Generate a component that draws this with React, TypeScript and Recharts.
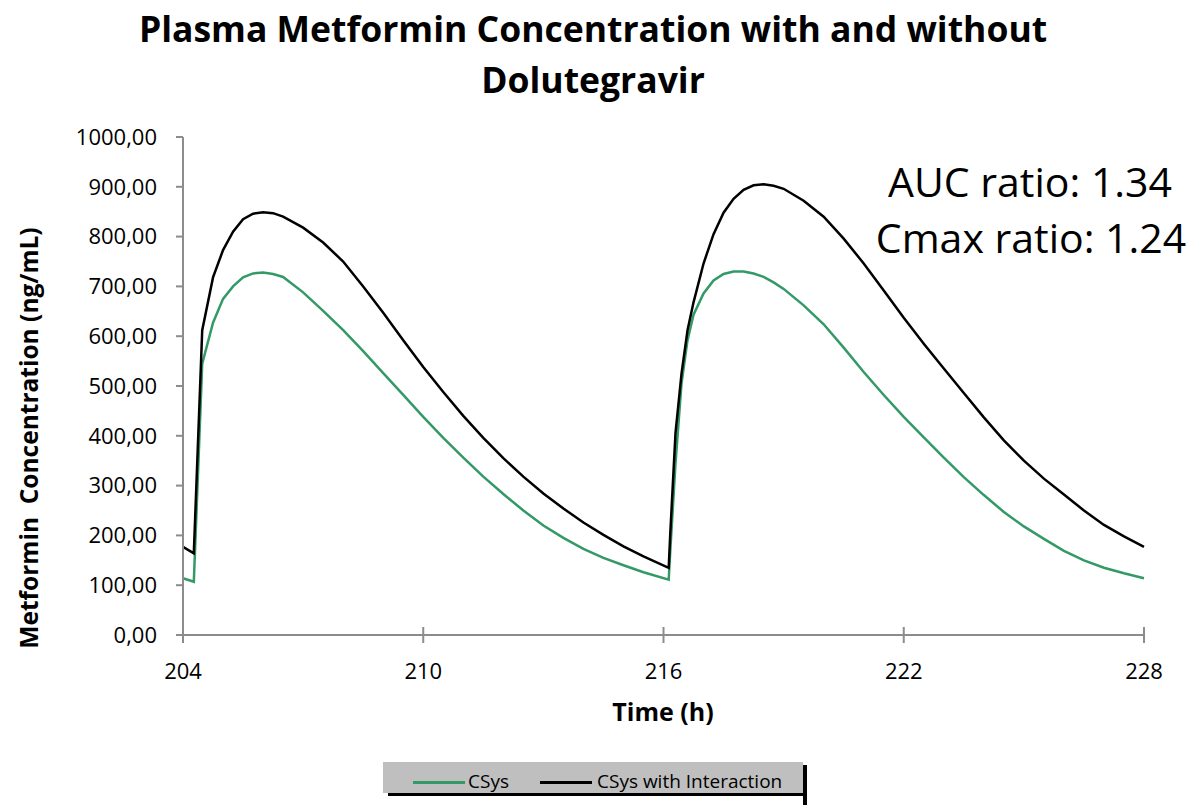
import React from 'react';
import { LineChart, Line, XAxis, YAxis, Legend } from 'recharts';

const times = [
  204, 204.27, 204.48, 204.75, 205, 205.25, 205.5, 205.75, 206, 206.25, 206.5, 207, 207.5, 208, 208.5,
  209, 209.5, 210, 210.5, 211, 211.5, 212, 212.5, 213, 213.5, 214, 214.5, 215, 215.5, 216.13,
  216.17, 216.3, 216.45, 216.6, 216.75, 217, 217.25, 217.5, 217.75, 218, 218.25, 218.5, 218.75, 219,
  219.5, 220, 220.5, 221, 221.5, 222, 222.5, 223, 223.5, 224, 224.5, 225, 225.5, 226, 226.5, 227, 227.5, 228,
];

const csys = [
  114, 107, 545, 627, 675, 700, 718, 726, 728, 725, 719, 688, 651, 612, 570,
  526, 482, 438, 396, 356, 318, 283, 250, 220, 195, 173, 155, 140, 126, 111,
  170, 345, 505, 592, 643, 686, 712, 725, 730, 730, 726, 719, 708, 695,
  662, 624, 577, 528, 482, 438, 397, 356, 317, 281, 247, 218, 193, 169, 150, 135, 124, 114,
];

const csysInteraction = [
  177, 164, 612, 718, 773, 810, 835, 846, 849, 847, 840, 818, 788, 750, 700,
  647, 592, 538, 488, 440, 396, 355, 318, 284, 254, 226, 201, 178, 158, 135,
  205, 406, 525, 612, 668, 746, 805, 848, 876, 894, 903, 905, 902, 896,
  872, 840, 796, 746, 692, 637, 585, 535, 486, 437, 391, 350, 314, 282, 250, 221, 198, 177,
];

const xTicks = [204, 210, 216, 222, 228];
const yTicks = [0, 100, 200, 300, 400, 500, 600, 700, 800, 900, 1000];
const titleLines = ['Plasma Metformin Concentration with and without', 'Dolutegravir'];
const annotationLines = ['AUC ratio: 1.34', 'Cmax ratio: 1.24'];
const seriesNames = ['CSys', 'CSys with Interaction'];
const seriesColors = ['#339966', '#000000'];
const xAxisTitle = 'Time (h)';
const yAxisTitle = 'Metformin  Concentration (ng/mL)';

const data = times.map((t, i) => ({ t, csys: csys[i], inter: csysInteraction[i] }));

const FONT = '"Open Sans", sans-serif';
const AXIS = '#8c8c8c';

const XTick = (props: any) => {
  const { x, y, payload } = props;
  return (
    <g>
      <line x1={x} x2={x} y1={y - 8} y2={y + 8} stroke={AXIS} strokeWidth={2} />
      <text x={x} y={y + 44} textAnchor="middle" fontFamily={FONT} fontSize={22} fill="#000">
        {payload.value}
      </text>
    </g>
  );
};

const fmt = (v: number) => v.toFixed(2).replace('.', ',');

const LegendBox = () => (
  <div style={{ position: 'relative', width: 424, height: 43, fontFamily: FONT }}>
    <div style={{ position: 'absolute', left: 420, top: 3, width: 4, height: 40, background: '#000' }} />
    <div style={{ position: 'absolute', left: 5, top: 31, width: 419, height: 3, background: '#000' }} />
    <div style={{ position: 'absolute', left: 0, top: 0, width: 420, height: 31, background: '#bfbfbf' }} />
    <div style={{ position: 'absolute', left: 30, top: 19, width: 52, height: 2.5, background: seriesColors[0] }} />
    <div style={{ position: 'absolute', left: 85, top: 6, fontSize: 19, lineHeight: '26px', color: '#000', whiteSpace: 'pre' }}>
      {seriesNames[0]}
    </div>
    <div style={{ position: 'absolute', left: 157, top: 19, width: 52, height: 2.5, background: seriesColors[1] }} />
    <div style={{ position: 'absolute', left: 214, top: 6, fontSize: 19, lineHeight: '26px', color: '#000', whiteSpace: 'pre' }}>
      {seriesNames[1]}
    </div>
  </div>
);

export default function App() {
  return (
    <div style={{ position: 'absolute', left: 0, top: 0, width: 1193, height: 805, background: '#fff' }}>
      <LineChart width={1193} height={805} data={data} margin={{ top: 137, right: 49, bottom: 140, left: 0 }}>
        <XAxis
          dataKey="t"
          type="number"
          domain={[204, 228]}
          ticks={xTicks}
          interval={0}
          height={30}
          axisLine={{ stroke: AXIS, strokeWidth: 2 }}
          tickLine={false}
          tickSize={0}
          tickMargin={0}
          tick={<XTick />}
        />
        <YAxis
          type="number"
          domain={[0, 1000]}
          ticks={yTicks}
          interval={0}
          width={183}
          axisLine={{ stroke: AXIS, strokeWidth: 2 }}
          tickLine={{ stroke: AXIS, strokeWidth: 2 }}
          tickSize={7}
          tickMargin={19}
          tickFormatter={fmt}
          tick={{ fontFamily: FONT, fontSize: 22, fill: '#000' }}
        />
        <Line
          dataKey="csys"
          name={seriesNames[0]}
          type="linear"
          stroke={seriesColors[0]}
          strokeWidth={2.5}
          dot={false}
          activeDot={false}
          isAnimationActive={false}
        />
        <Line
          dataKey="inter"
          name={seriesNames[1]}
          type="linear"
          stroke={seriesColors[1]}
          strokeWidth={2.5}
          dot={false}
          activeDot={false}
          isAnimationActive={false}
        />
        <Legend
          layout="horizontal"
          verticalAlign="middle"
          align="center"
          wrapperStyle={{ left: 383, top: 762, width: 424, height: 43 }}
          content={<LegendBox />}
        />
      </LineChart>
      <svg
        width={1193}
        height={805}
        style={{ position: 'absolute', left: 0, top: 0, pointerEvents: 'none' }}
      >
        <text x={593} y={42} textAnchor="middle" fontFamily={FONT} fontWeight="bold" fontSize={35.5} fill="#000">
          {titleLines[0]}
        </text>
        <text x={593} y={93} textAnchor="middle" fontFamily={FONT} fontWeight="bold" fontSize={35.5} fill="#000">
          {titleLines[1]}
        </text>
        <text x={1030} y={197} textAnchor="middle" fontFamily={FONT} fontSize={41} fill="#000">
          {annotationLines[0]}
        </text>
        <text x={1031} y={253} textAnchor="middle" fontFamily={FONT} fontSize={41} fill="#000">
          {annotationLines[1]}
        </text>
        <text x={663} y={721} textAnchor="middle" fontFamily={FONT} fontWeight="bold" fontSize={25} fill="#000">
          {xAxisTitle}
        </text>
        <text
          x={0}
          y={0}
          transform="translate(38, 438) rotate(-90)"
          textAnchor="middle"
          fontFamily={FONT}
          fontWeight="bold"
          fontSize={24.5}
          fill="#000"
          style={{ whiteSpace: 'pre' }}
        >
          {yAxisTitle}
        </text>
      </svg>
    </div>
  );
}
